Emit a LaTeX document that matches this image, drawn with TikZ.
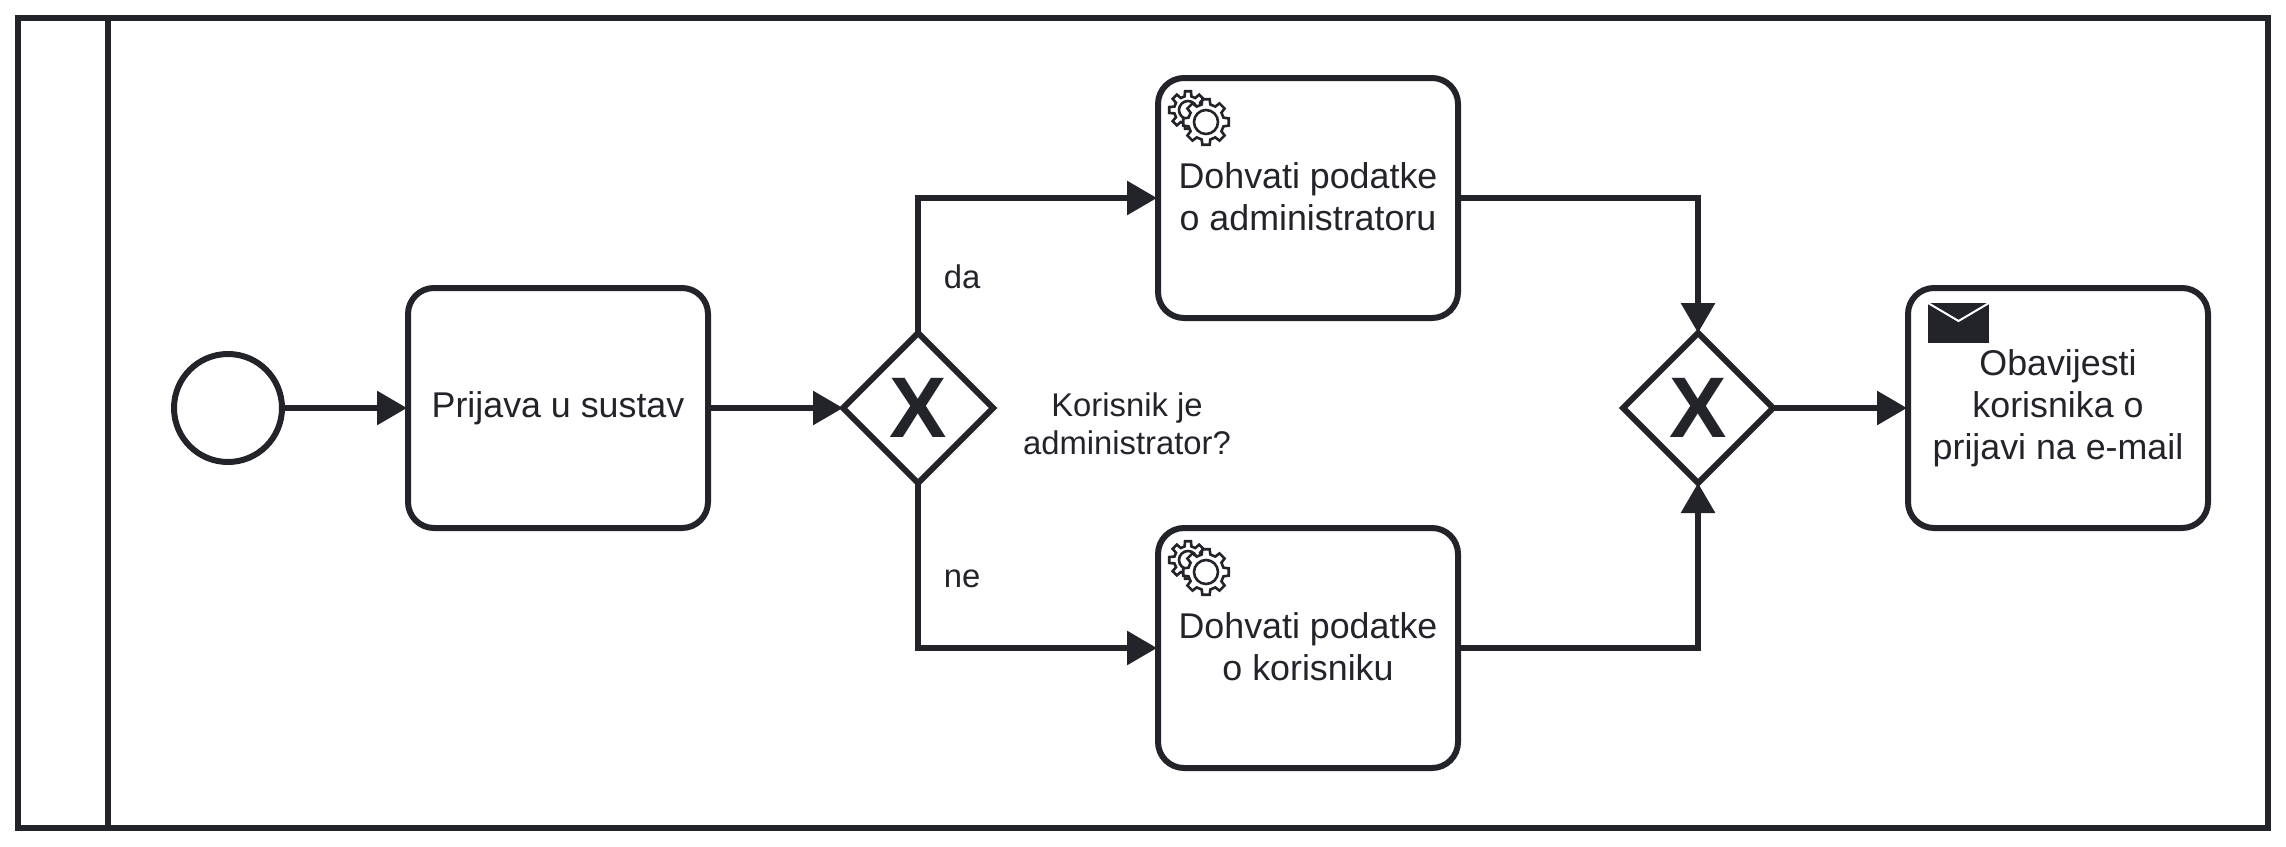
\documentclass[tikz,border=0pt]{standalone}
\usepackage{fontspec}
\setmainfont{Liberation Sans}
\usetikzlibrary{shapes.geometric,arrows.meta}
\definecolor{inkdark}{HTML}{22242A}

\tikzset{
    task/.style={draw=inkdark, line width=3pt, rounded corners=13pt, fill=white, text=inkdark,
        minimum width=150pt, minimum height=120pt, align=center, inner sep=0pt, outer sep=0.5pt,
        font=\fontsize{17.9}{21}\selectfont},
    gateway/.style={draw=inkdark, line width=3pt, diamond, aspect=1, fill=white, text=inkdark,
        minimum width=75pt, minimum height=75pt, inner sep=0pt, outer sep=0pt,
        font=\fontsize{43}{43}\selectfont\bfseries},
    startevent/.style={draw=inkdark, line width=3pt, circle, minimum size=54pt, inner sep=0pt},
    flow/.style={draw=inkdark, line width=3pt, -{Triangle[length=15pt,width=16.5pt]}},
    flowlabel/.style={text=inkdark, align=center, font=\fontsize{16.4}{19}\selectfont},
    gearline/.style={draw=inkdark, line width=1.3pt, fill=white, line join=miter},
    gearicon/.pic={
        % back gear
        \draw[gearline] ([shift={(31,33)}]-14:14) foreach \a in {0,45,...,315} {
            -- ([shift={(31,33)}]\a-14:14) -- ([shift={(31,33)}]\a-9:19)
            -- ([shift={(31,33)}]\a+9:19) -- ([shift={(31,33)}]\a+14:14)
        } -- cycle;
        \draw[gearline] (31,33) circle (9);
        % front gear
        \draw[gearline] ([shift={(49,45)}]-14:18) foreach \a in {0,45,...,315} {
            -- ([shift={(49,45)}]\a-14:18) -- ([shift={(49,45)}]\a-9:23)
            -- ([shift={(49,45)}]\a+9:23) -- ([shift={(49,45)}]\a+14:18)
        } -- cycle;
        \draw[gearline] (49,45) circle (12);
    },
    envelopeicon/.pic={
        \fill[inkdark] (21,16) rectangle (82,56);
        \draw[white, line width=1pt] (21,16) -- (51.5,34) -- (82,16);
    }
}

\begin{document}
\begin{tikzpicture}[x=0.5pt, y=-0.5pt]
    \useasboundingbox (0,0) rectangle (2286,846);

    % Pool frame and its header strip
    \draw[draw=inkdark, line width=3pt] (18,18) rectangle (2268,828);
    \draw[draw=inkdark, line width=3pt] (108,18) -- (108,828);

    % Start event and tasks
    \node[startevent] (start) at (228,408) {};
    \node[task] (login) at (558,408) {Prijava u sustav};
    \node[task, text depth=1.5pt] (admindata) at (1308,198) {Dohvati podatke\\o administratoru};
    \node[task, text depth=1.5pt] (userdata) at (1308,648) {Dohvati podatke\\o korisniku};
    \node[task] (notify) at (2058,408) {Obavijesti\\korisnika o\\prijavi na e-mail};

    % Gateways
    \node[gateway] (split) at (918,408) {X};
    \node[gateway] (merge) at (1698,408) {X};

    % Task icons
    \pic at (admindata.north west) {gearicon};
    \pic at (userdata.north west) {gearicon};
    \pic at (notify.north west) {envelopeicon};

    % Sequence flows
    \draw[flow] (start) -- (login);
    \draw[flow] (login) -- (split);
    \draw[flow] (split.north) |- (admindata.west);
    \draw[flow] (split.south) |- (userdata.west);
    \draw[flow] (admindata.east) -| (merge.north);
    \draw[flow] (userdata.east) -| (merge.south);
    \draw[flow] (merge) -- (notify);

    % Labels at the split
    \node[flowlabel] (labelyes) at (962,277) {da};
    \node[flowlabel] (labelno) at (962,579) {ne};
    \node[flowlabel] (question) at (1127,424) {Korisnik je\\administrator?};
\end{tikzpicture}
\end{document}
